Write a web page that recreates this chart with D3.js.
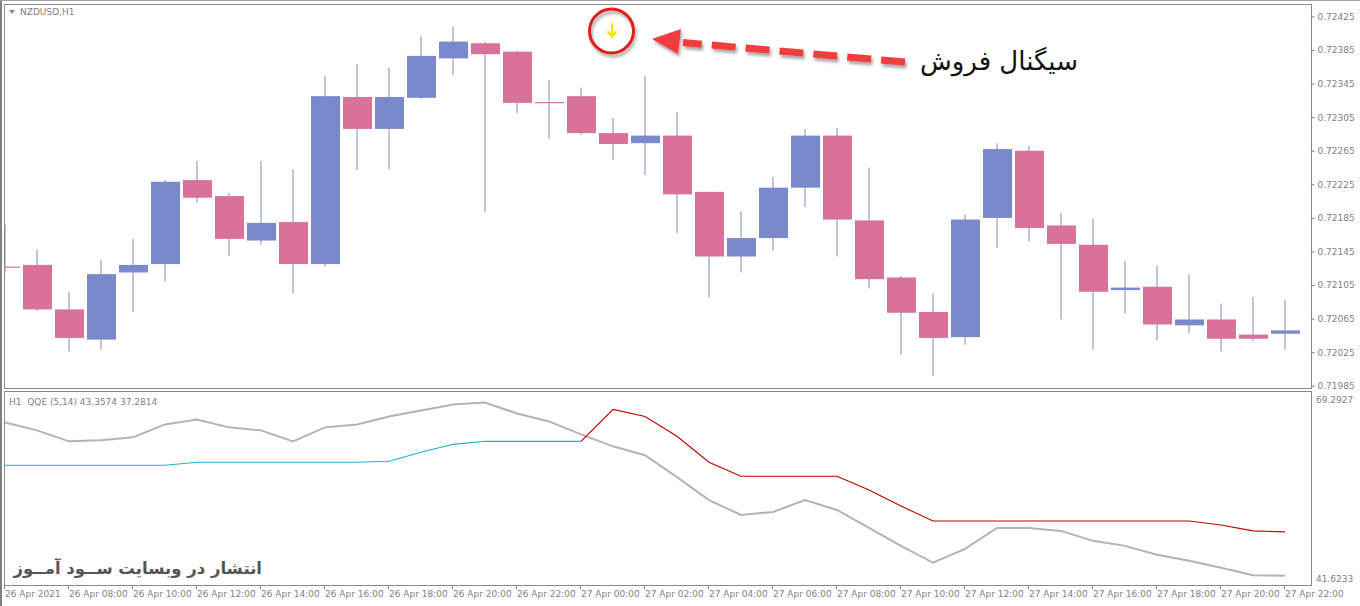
<!DOCTYPE html>
<html><head><meta charset="utf-8">
<script src="https://cdn.jsdelivr.net/npm/d3@7"></script>
<style>body{margin:0;background:#fff;} svg{display:block;}</style>
</head><body>
<svg id="c" width="1360" height="606"></svg>
<script>
// ---------- DATA ----------
const symbolLabel = "NZDUSD,H1";
const indicatorLabel = "H1  QQE (5,14) 43.3574 37.2814";
const signalText = "سیگنال فروش";
const watermarkText = "انتشار در وبسایت ســود آمــوز";

// hourly bars, 26 Apr 2021 06:00 .. 27 Apr 2021 22:00
const opens  = [0.72127,0.72129,0.72076,0.72040,0.72120,0.72130,0.72230,0.72211,0.72158,0.72180,
                0.72130,0.72329,0.72291,0.72328,0.72375,0.72393,0.72383,0.72323,0.72330,0.72286,
                0.72274,0.72283,0.72216,0.72139,0.72161,0.72221,0.72283,0.72182,0.72114,0.72073,
                0.72043,0.72185,0.72265,0.72176,0.72153,0.72099,0.72103,0.72057,0.72064,0.72046,0.72047];
const highs  = [0.72177,0.72147,0.72097,0.72135,0.72160,0.72230,0.72253,0.72215,0.72253,0.72243,
                0.72354,0.72368,0.72364,0.72401,0.72413,0.72395,0.72384,0.72349,0.72340,0.72304,
                0.72354,0.72311,0.72216,0.72193,0.72234,0.72291,0.72292,0.72245,0.72116,0.72095,
                0.72189,0.72274,0.72271,0.72191,0.72184,0.72134,0.72128,0.72118,0.72083,0.72091,0.72087];
const lows   = [0.72120,0.72074,0.72026,0.72028,0.72073,0.72109,0.72203,0.72140,0.72153,0.72095,
                0.72127,0.72242,0.72243,0.72327,0.72355,0.72192,0.72310,0.72279,0.72284,0.72254,
                0.72236,0.72167,0.72090,0.72120,0.72146,0.72198,0.72139,0.72101,0.72022,0.71997,
                0.72034,0.72149,0.72157,0.72064,0.72028,0.72071,0.72039,0.72048,0.72026,0.72038,0.72028];
const closes = [0.72126,0.72076,0.72042,0.72118,0.72129,0.72228,0.72209,0.72160,0.72179,0.72130,
                0.72330,0.72291,0.72329,0.72378,0.72395,0.72380,0.72322,0.72322,0.72286,0.72273,
                0.72283,0.72213,0.72139,0.72161,0.72221,0.72283,0.72183,0.72112,0.72072,0.72042,
                0.72183,0.72267,0.72173,0.72154,0.72097,0.72102,0.72058,0.72064,0.72041,0.72041,0.72051];

const priceTicks = [0.72425,0.72385,0.72345,0.72305,0.72265,0.72225,0.72185,0.72145,0.72105,0.72065,0.72025,0.71985];

const timeTickIndex  = [0,2,4,6,8,10,12,14,16,18,20,22,24,26,28,30,32,34,36,38,40];
const timeTickLabels = ["26 Apr 2021","26 Apr 08:00","26 Apr 10:00","26 Apr 12:00","26 Apr 14:00","26 Apr 16:00",
                        "26 Apr 18:00","26 Apr 20:00","26 Apr 22:00","27 Apr 00:00","27 Apr 02:00","27 Apr 04:00",
                        "27 Apr 06:00","27 Apr 08:00","27 Apr 10:00","27 Apr 12:00","27 Apr 14:00","27 Apr 16:00",
                        "27 Apr 18:00","27 Apr 20:00","27 Apr 22:00"];

// QQE lines
const qqeRsiMa = [66.11,64.84,63.09,63.25,63.73,65.79,66.59,65.32,64.84,63.09,
                  65.32,65.79,67.07,68.02,68.97,69.29,67.54,66.27,64.20,62.29,
                  60.87,57.37,53.71,51.32,51.80,53.71,52.12,49.26,46.39,43.69,
                  45.92,49.26,49.26,48.78,47.19,46.39,44.96,44.01,42.90,41.70,41.62];
const qqeTrailUp = [59.27,59.27,59.27,59.27,59.27,59.27,59.75,59.75,59.75,59.75,
                    59.75,59.75,59.90,61.34,62.61,63.09,63.09,63.09,63.09,null,
                    null,null,null,null,null,null,null,null,null,null,
                    null,null,null,null,null,null,null,null,null,null,null];
const qqeTrailDown = [null,null,null,null,null,null,null,null,null,null,
                      null,null,null,null,null,null,null,null,63.09,68.18,
                      67.07,63.89,59.75,57.52,57.52,57.52,57.52,55.30,52.76,50.37,
                      50.37,50.37,50.37,50.37,50.37,50.37,50.37,50.37,49.73,48.78,48.62];
const qqeScaleLabels = ["69.2927","41.6233"];
const qqeMin = 41.6233, qqeMax = 69.2927;

// ---------- DRAW ----------
const svg = d3.select("#c");
const W = 1360, H = 606;
const main = {l:4, r:1311, t:4, b:388};
const sub  = {l:4, r:1311, t:391, b:585};

const x = d3.scaleLinear().domain([0,40]).range([5,1285]);
const y = d3.scaleLinear().domain([0.71985,0.72425]).range([385.8,16.4]);
const yq = d3.scaleLinear().domain([qqeMin,qqeMax]).range([575.7,402.5]);

const axisColor = "#7f7f7f";
const font = "DejaVu Sans, Verdana, sans-serif";

// outer frame
svg.append("rect").attr("x",0).attr("y",0).attr("width",W).attr("height",H).attr("fill","#fff");
svg.append("rect").attr("x",0).attr("y",0).attr("width",2).attr("height",H).attr("fill","#808080");
svg.append("line").attr("x1",0).attr("x2",W).attr("y1",0.5).attr("y2",0.5).attr("stroke","#a0a0a0");

// panels
[main, sub].forEach(p=>{
  svg.append("rect").attr("x",p.l+0.5).attr("y",p.t+0.5).attr("width",p.r-p.l).attr("height",p.b-p.t)
    .attr("fill","none").attr("stroke","#8a8a8a").attr("stroke-width",1);
});

const defs = svg.append("defs");
defs.append("clipPath").attr("id","clipMain").append("rect")
  .attr("x",main.l+1).attr("y",main.t+1).attr("width",main.r-main.l-1).attr("height",main.b-main.t-1);
defs.append("clipPath").attr("id","clipSub").append("rect")
  .attr("x",sub.l+1).attr("y",sub.t+1).attr("width",sub.r-sub.l-1).attr("height",sub.b-sub.t-1);
const sh = defs.append("filter").attr("id","shadow").attr("x","-20%").attr("y","-50%").attr("width","150%").attr("height","250%");
sh.append("feDropShadow").attr("dx",1.5).attr("dy",3).attr("stdDeviation",1.6).attr("flood-color","#000").attr("flood-opacity",0.35);

// price axis
const yAxis = d3.axisRight(y).tickValues(priceTicks).tickSize(3).tickPadding(3).tickFormat(d3.format(".5f"));
const gy = svg.append("g").attr("transform",`translate(${main.r+0.5},0)`).call(yAxis);
gy.select(".domain").remove();
gy.selectAll("line").attr("stroke",axisColor);
gy.selectAll("text").attr("fill",axisColor).attr("font-family",font).attr("font-size",9);

// candles
const bars = d3.range(opens.length).map(i=>({i,o:opens[i],h:highs[i],l:lows[i],c:closes[i]}));
const gc = svg.append("g").attr("clip-path","url(#clipMain)");
const bull = "#7a89cc", bear = "#d8729a", wick = "#c0c4dc";
const bw = 29;
gc.selectAll("line.w").data(bars).join("line").attr("class","w")
  .attr("x1",d=>x(d.i)).attr("x2",d=>x(d.i)).attr("y1",d=>y(d.h)).attr("y2",d=>y(d.l))
  .attr("stroke",wick).attr("stroke-width",2);
gc.selectAll("rect.b").data(bars).join("rect").attr("class","b")
  .attr("x",d=>x(d.i)-14).attr("width",bw)
  .attr("y",d=>y(Math.max(d.o,d.c)))
  .attr("height",d=>Math.max(1.2, Math.abs(y(d.o)-y(d.c))))
  .attr("fill",d=>d.c>d.o?bull:bear);

// symbol label
svg.append("path").attr("d","M9,10 L15,10 L12,14 Z").attr("fill","#8a8a8a");
svg.append("text").attr("x",20).attr("y",15).text(symbolLabel)
  .attr("fill",axisColor).attr("font-family",font).attr("font-size",9);

// QQE panel
const gq = svg.append("g").attr("clip-path","url(#clipSub)");
const lineGen = d3.line().defined(d=>d!=null).x((d,i)=>x(i)).y(d=>yq(d));
gq.append("path").datum(qqeRsiMa).attr("d",lineGen).attr("fill","none").attr("stroke","#b3b3b3").attr("stroke-width",2);
gq.append("path").datum(qqeTrailUp).attr("d",lineGen).attr("fill","none").attr("stroke","#17b4d2").attr("stroke-width",1.1);
gq.append("path").datum(qqeTrailDown).attr("d",lineGen).attr("fill","none").attr("stroke","#c00000").attr("stroke-width",1.1);

svg.append("text").attr("x",9).attr("y",405).text(indicatorLabel)
  .style("white-space","pre")
  .attr("fill",axisColor).attr("font-family",font).attr("font-size",9);
svg.append("text").attr("x",sub.r+5).attr("y",403).text(qqeScaleLabels[0])
  .attr("fill",axisColor).attr("font-family",font).attr("font-size",9);
svg.append("text").attr("x",sub.r+5).attr("y",582).text(qqeScaleLabels[1])
  .attr("fill",axisColor).attr("font-family",font).attr("font-size",9);

// time axis
const gt = svg.append("g");
gt.selectAll("line").data(timeTickIndex).join("line")
  .attr("x1",d=>Math.round(x(d))-0.5).attr("x2",d=>Math.round(x(d))-0.5)
  .attr("y1",sub.b).attr("y2",sub.b+4).attr("stroke",axisColor);
gt.selectAll("text").data(timeTickIndex).join("text")
  .attr("x",(d,i)=> i===0 ? 5 : x(d)).attr("y",597)
  .text((d,i)=>timeTickLabels[i])
  .attr("fill",axisColor).attr("font-family",font).attr("font-size",9);

// watermark (right edge at x=262)
svg.append("text").attr("x",262).attr("y",574).attr("text-anchor","start").attr("direction","rtl")
  .text(watermarkText).attr("fill","#555").attr("font-family",font).attr("font-weight","bold").attr("font-size",16.5);

// annotation: signal circle + arrow
const sigI = 19; // signal bar index (27 Apr 01:00)
const ann = svg.append("g");
ann.append("circle").attr("cx",x(sigI)-1.5).attr("cy",31).attr("r",22)
  .attr("fill","none").attr("stroke","#e01b1b").attr("stroke-width",3).attr("filter","url(#shadow)");
ann.append("path").attr("d",`M${x(sigI)-1},24 L${x(sigI)-1},36 M${x(sigI)-5},32 L${x(sigI)-1},36.5 L${x(sigI)+3},32`)
  .attr("fill","none").attr("stroke","#f2e600").attr("stroke-width",2.2).attr("stroke-linecap","round");
const arr = ann.append("g").attr("filter","url(#shadow)");
arr.append("line").attr("x1",905).attr("y1",62).attr("x2",683).attr("y2",42.5)
  .attr("stroke","#f03c3c").attr("stroke-width",7).attr("stroke-dasharray","24,10");
arr.append("path").attr("d","M652,39 L681,29 L678,54 Z").attr("fill","#f03c3c");
svg.append("text").attr("x",1078).attr("y",70).attr("text-anchor","start").attr("direction","rtl")
  .text(signalText).attr("fill","#111").attr("font-family",font).attr("font-size",26);
</script>
</body></html>
